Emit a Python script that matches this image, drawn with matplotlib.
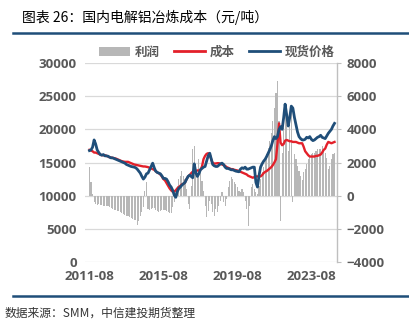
import matplotlib
matplotlib.use("Agg")
import matplotlib.pyplot as plt
from matplotlib.lines import Line2D
from matplotlib.patches import Patch
import pandas as pd

plt.rcParams['font.family'] = ['Open Sans', 'Noto Sans CJK SC', 'DejaVu Sans']

start_month = '2011-08-01'
spot_price = [
    16800, 16900, 17300, 18400, 17800, 16900, 16500, 16200, 16100, 16200,
    16000, 16000, 15950, 15800, 15700, 15700, 15600, 15500, 15400, 15300,
    15200, 15100, 15000, 14900, 14700, 14600, 14500, 14400, 14350, 14300,
    14200, 14000, 13700, 13400, 12900, 12500, 12800, 13300, 13400, 13900,
    14400, 14900, 14200, 13700, 13500, 13400, 13300, 13000, 12600, 12600,
    12500, 12100, 11600, 11300, 10800, 10100, 9750, 10600, 11100, 11300,
    11600, 11800, 12000, 12500, 12900, 13100, 12900, 12700, 14800, 13500,
    12900, 13300, 13900, 14100, 14300, 14400, 15200, 16000, 16400, 15600,
    14700, 14500, 14400, 14400, 14600, 14800, 14900, 14700, 14300, 14100,
    14100, 14000, 13900, 13900, 13800, 13700, 13650, 13600, 14000, 14200,
    14100, 14300, 14000, 14000, 14100, 14200, 14300, 14300, 12000, 11300,
    13000, 14300, 14800, 15200, 15500, 15900, 16400, 16900, 17500, 18300,
    18900, 18600, 18900, 20000, 20400, 20000, 21800, 23800, 22200, 20500,
    21800, 23500, 23200, 21800, 20700, 19600, 18900, 18600, 18400, 18400,
    18500, 18800, 18700, 18900, 18500, 18300, 18400, 18600, 18800, 18900,
    19100, 18800, 18700, 18600, 19000, 19400, 19700, 20000, 20500, 20900,
]
cost = [
    16900, 16800, 16700, 16500, 16500, 16400, 16300, 16200, 16100, 16100,
    16100, 16000, 15900, 15800, 15750, 15700, 15650, 15600, 15500, 15400,
    15300, 15200, 15150, 15100, 15100, 15100, 15000, 14900, 14800, 14700,
    14650, 14600, 14550, 14500, 14450, 14400, 14400, 14350, 14300, 14200,
    14100, 14000, 13900, 13700, 13500, 13400, 13200, 12900, 12500, 12300,
    11900, 11500, 11100, 10800, 10600, 10650, 10800, 11100, 11300, 11500,
    11700, 11800, 12000, 12500, 12900, 13100, 13400, 13600, 13700, 13700,
    13800, 13800, 13900, 14400, 15500, 16000, 16300, 16400, 16200, 15500,
    14900, 14850, 14850, 14900, 14900, 14800, 14700, 14600, 14500, 14300,
    14200, 14100, 14000, 14000, 13900, 13850, 13800, 13700, 13600, 13500,
    13400, 13300, 13200, 13000, 12900, 12800, 12700, 12800, 12900, 12900,
    12900, 12900, 13100, 13400, 13600, 13700, 13900, 14100, 14300, 14600,
    15000, 15500, 17800, 20900, 18000, 17600, 17800, 18300, 18400, 18300,
    18200, 18200, 18100, 18100, 18100, 18000, 17900, 17900, 17900, 17400,
    16700, 16400, 16100, 15900, 15900, 15900, 15900, 16000, 16000, 16100,
    16200, 16500, 16900, 17100, 17700, 18100, 18000, 17900, 18000, 18100,
]
profit = [
    1700, 800, 100, -400, -500, -550, -500, -550, -550, -600,
    -600, -650, -650, -700, -750, -800, -850, -850, -900, -950,
    -1000, -1050, -1100, -1150, -1200, -1250, -1300, -1350, -1400, -1450,
    -1450, -1750, -1500, -1250, -1000, -700, 300, 800, -800, -850,
    -800, -750, -750, -850, -900, -1000, -900, -850, -850, -850,
    -900, -1000, -1050, -1050, -700, -400, 300, 600, 1000, 1200,
    1500, 1200, 1000, 400, -500, -800, 600, 2800, 3000, 1800,
    1200, 2200, 1500, 900, 300, -600, -1300, -900, -300, -500,
    -1000, -1200, -800, -1000, -600, -300, 200, -400, -650, -200,
    500, 900, 1100, 1000, 800, 700, 500, 300, 200, 400,
    200, -300, -800, -1800, -600, 500, 700, 400, 200, 100,
    600, 1000, 1400, 1700, 2100, 2500, 2900, 3300, 3800, 4500,
    5300, 6200, 6900, 4500, -1500, 2600, 4200, 5000, 4600, 2700,
    4300, 5100, -400, 2500, 2200, 1800, 1500, 1200, 950, 1400,
    1600, 1900, 2200, 2400, 2500, 2600, 2600, 2700, 2800, 2800,
    2800, 3000, 2700, 2600, 2300, 1600, 1800, 2200, 2500, 2600,
]
tick_labels = ['2011-08', '2015-08', '2019-08', '2023-08']
legend_labels = ['利润', '成本', '现货价格']
title = '图表 26：国内电解铝冶炼成本（元/吨）'
source = '数据来源：SMM，中信建投期货整理'

dates = pd.date_range(start_month, periods=len(spot_price), freq='MS')

GRAY = '#595959'
BLUE = '#1F4E79'
RED = '#E3202A'
BAR = '#B7B7B7'
GRID = '#D9D9D9'

fig = plt.figure(figsize=(4.09, 3.28), dpi=100)
ax = fig.add_axes([85/409, 66/328, (337-85)/409, (262-63)/328])
ax2 = ax.twinx()

# profit bars on right axis (behind)
ax2.bar(dates, profit, width=22, color=BAR, linewidth=0, zorder=2)
ax2.set_ylim(-4000, 8000)
ax2.set_yticks(range(-4000, 8001, 2000))
ax2.grid(axis='y', color=GRID, linewidth=0.9, zorder=0)
ax2.grid(axis='x', color=GRID, linewidth=0.9, zorder=0)
ax2.set_axisbelow(True)

# lines on left axis (in front)
ax.set_zorder(ax2.get_zorder() + 1)
ax.patch.set_visible(False)
ax.plot(dates, cost, color=RED, linewidth=1.7, zorder=3)
ax.plot(dates, spot_price, color=BLUE, linewidth=2.0, zorder=4)
ax.set_ylim(0, 30000)
ax.set_yticks(range(0, 30001, 5000))
ax.set_xlim(pd.Timestamp('2011-05-05'), pd.Timestamp('2024-12-20'))
tick_dates = [pd.Timestamp(t + '-01') for t in tick_labels]
ax.set_xticks(tick_dates)
ax.set_xticklabels(tick_labels)

for a in (ax, ax2):
    for s in ('top', 'left', 'bottom'):
        a.spines[s].set_visible(False)
ax.spines['right'].set_visible(False)
ax2.spines['right'].set_color('#BFBFBF')
ax2.spines['right'].set_linewidth(1.0)

ax.tick_params(axis='y', length=0, pad=6)
ax.tick_params(axis='x', length=0, pad=6)
ax2.tick_params(axis='y', length=3, color='#BFBFBF', pad=4)
ax2.tick_params(axis='x', length=0)
for lbl in ax.get_yticklabels() + ax.get_xticklabels() + ax2.get_yticklabels():
    lbl.set_fontsize(9.5)
    lbl.set_fontweight('bold')
    lbl.set_color(GRAY)

# legend
handles = [Patch(facecolor=BAR, edgecolor='none'),
           Line2D([], [], color=RED, linewidth=2),
           Line2D([], [], color=BLUE, linewidth=2)]
leg = fig.legend(handles, legend_labels, loc='center', bbox_to_anchor=(0.53, 1 - 52/328),
                 ncol=3, frameon=False, handlelength=2.5, handletextpad=0.4,
                 columnspacing=1.1, prop={'family': ['Noto Sans CJK SC'], 'weight': 'bold', 'size': 9})
for t in leg.get_texts():
    t.set_color(GRAY)

# title and source
fig.text(22/409, 1 - 17/328, title, fontsize=10, color='black',
         family=['Noto Sans CJK SC', 'DejaVu Sans'], va='center', ha='left')
fig.text(5/409, 1 - 313/328, source, fontsize=8.5, color='#333333', style='italic',
         family=['Noto Sans CJK SC', 'DejaVu Sans'], va='center', ha='left')

# decorative rules
fig.add_artist(Line2D([13/409, 1], [1 - 33/328, 1 - 33/328], color=BLUE, linewidth=1.8,
                      transform=fig.transFigure))
fig.add_artist(Line2D([13/409, 1], [1 - 296/328, 1 - 296/328], color=BLUE, linewidth=1.8,
                      transform=fig.transFigure))

fig.savefig('out.png', dpi=100)
